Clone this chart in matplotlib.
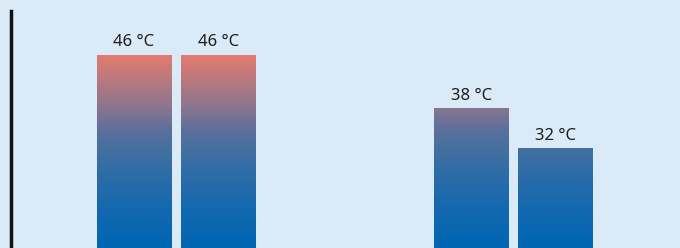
import numpy as np
import matplotlib
matplotlib.use('Agg')
import matplotlib.pyplot as plt
from matplotlib.colors import LinearSegmentedColormap

# values per slot (slots 2 and 3 are empty in the reference)
slots = [0, 1, 2, 3, 4, 5]
temps = [46, 46, None, None, 38, 32]
labels = ['46 °C', '46 °C', '', '', '38 °C', '32 °C']

BG = '#dbeaf7'
Y_LO, Y_HI = 17.24, 52.56

grad = LinearSegmentedColormap.from_list('temp', [
    (0.00, (0 / 255, 102 / 255, 179 / 255)),
    (0.20, (20 / 255, 105 / 255, 175 / 255)),
    (0.38, (45 / 255, 108 / 255, 168 / 255)),
    (0.51, (68 / 255, 112 / 255, 160 / 255)),
    (0.61, (92 / 255, 111 / 255, 155 / 255)),
    (0.73, (138 / 255, 118 / 255, 143 / 255)),
    (1.00, (226 / 255, 123 / 255, 112 / 255)),
])

fig = plt.figure(figsize=(6.8, 2.48), dpi=100, facecolor=BG)
ax = fig.add_axes([11 / 680, 0, 669 / 680, 237 / 248])
ax.set_facecolor(BG)

bar_w = 0.878
for x, t, lab in zip(slots, temps, labels):
    if t is None:
        continue
    col = np.linspace(Y_LO, t, 200).reshape(-1, 1)
    ax.imshow(col, cmap=grad, vmin=Y_LO, vmax=46, origin='lower',
              extent=[x - bar_w / 2, x + bar_w / 2, Y_LO, t],
              aspect='auto', interpolation='bilinear', zorder=2)
    ax.text(x, t + 0.75, lab, ha='center', va='bottom', fontsize=12,
            color='#1c1c1c', family=['Noto Sans', 'DejaVu Sans'])

ax.set_xlim(-1.459, 6.477)
ax.set_ylim(Y_LO, Y_HI)
for s in ['top', 'right', 'bottom']:
    ax.spines[s].set_visible(False)
ax.spines['left'].set_linewidth(2.5)
ax.spines['left'].set_color('#111111')
ax.set_xticks([])
ax.set_yticks([])

fig.savefig('out.png', dpi=100, facecolor=BG)
